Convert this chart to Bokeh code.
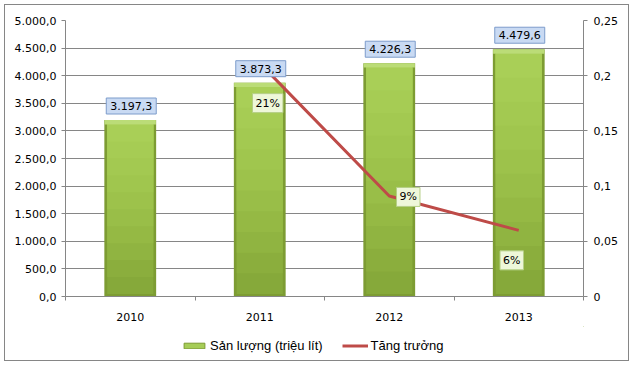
from bokeh.plotting import figure
from bokeh.models import (Range1d, LinearAxis, FixedTicker, ColumnDataSource,
                          Legend, LegendItem)
from bokeh.layouts import column
from bokeh.embed import file_html
from bokeh.resources import INLINE
from bokeh.core.properties import value

# ---- data ----
years = ["2010", "2011", "2012", "2013"]
production = [3197.3, 3873.3, 4226.3, 4479.6]
production_labels = ["3.197,3", "3.873,3", "4.226,3", "4.479,6"]
growth_years = ["2011", "2012", "2013"]
growth = [0.2114, 0.0911, 0.0599]
growth_labels = ["21%", "9%", "6%"]
left_ticks = [0, 500, 1000, 1500, 2000, 2500, 3000, 3500, 4000, 4500, 5000]
left_tick_labels = ["0,0", "500,0", "1.000,0", "1.500,0", "2.000,0", "2.500,0",
                    "3.000,0", "3.500,0", "4.000,0", "4.500,0", "5.000,0"]
right_ticks = [0, 0.05, 0.1, 0.15, 0.2, 0.25]
right_tick_labels = ["0", "0,05", "0,1", "0,15", "0,2", "0,25"]
series_names = ["Sản lượng (triệu lít)", "Tăng trưởng"]

# ---- styling constants ----
FONT = "DejaVu Sans"
GRID = "#868686"
BAR_W = 0.4
EDGE_X = 0.022      # side edge width in category units (~3px)
BEVEL_Y = 80        # top bevel height in value units (~4px)
BASE_Y = 45         # bottom edge
pct_dx = [8, 19, -7]
pct_dy = [40, 1, 30]
# vertical shading of the bar body, bottom -> top
body_shades = ["#86A93A", "#8BAE3D", "#90B441", "#95B944", "#99BE48",
               "#9DC24B", "#A0C64E", "#A3C951", "#A6CC54", "#A9CF57"]
edge_color = "#7D9C33"
bevel_color = "#BBDC77"
LINE_COLOR = "#BE4B48"

xs = [years.index(y) + 0.5 for y in years]
gx = [years.index(y) + 0.5 for y in growth_years]

p = figure(width=623, height=321, output_backend="svg", toolbar_location=None,
           x_range=Range1d(0, len(years)), y_range=Range1d(0, 5000),
           min_border_left=60, min_border_right=45, min_border_top=15, min_border_bottom=30)
p.outline_line_color = None
p.background_fill_color = "white"
p.border_fill_color = "white"
p.extra_y_ranges = {"g": Range1d(0, 0.25)}

# grid
p.xgrid.visible = False
p.ygrid.grid_line_color = GRID
p.ygrid.ticker = FixedTicker(ticks=left_ticks)

# left axis
ya = p.yaxis[0]
ya.ticker = FixedTicker(ticks=left_ticks)
ya.major_label_overrides = dict(zip(left_ticks, left_tick_labels))
ya.axis_line_color = GRID
ya.major_tick_line_color = GRID
ya.major_tick_out = 4
ya.major_tick_in = 0
ya.minor_tick_line_color = None
ya.major_label_text_font = FONT
ya.major_label_text_font_size = "11px"
ya.major_label_text_color = "#000000"
ya.major_label_standoff = 5

# right axis
ra = LinearAxis(y_range_name="g", ticker=FixedTicker(ticks=right_ticks))
ra.major_label_overrides = dict(zip(right_ticks, right_tick_labels))
ra.axis_line_color = GRID
ra.major_tick_line_color = GRID
ra.major_tick_out = 4
ra.major_tick_in = 0
ra.minor_tick_line_color = None
ra.major_label_text_font = FONT
ra.major_label_text_font_size = "11px"
ra.major_label_text_color = "#000000"
ra.major_label_standoff = 6
p.add_layout(ra, "right")

# x axis
xa = p.xaxis[0]
xa.ticker = FixedTicker(ticks=xs, minor_ticks=list(range(len(years) + 1)))
xa.major_label_overrides = dict(zip(xs, years))
xa.axis_line_color = GRID
xa.major_tick_line_color = None
xa.major_tick_out = 0
xa.minor_tick_line_color = GRID
xa.minor_tick_out = 4
xa.minor_tick_in = 0
xa.major_label_text_font = FONT
xa.major_label_text_font_size = "11px"
xa.major_label_text_color = "#000000"
xa.major_label_standoff = 12

# bars (layered to mimic bevelled, shaded 3D look)
src = ColumnDataSource(dict(x=xs, top=production, lab=production_labels,
                            inner_top=[v - BEVEL_Y for v in production]))
p.vbar(x="x", top="top", width=BAR_W, source=src, fill_color=edge_color, line_color=None)
n = len(body_shades)
for i, col in enumerate(body_shades):
    b = [BASE_Y + (v - BEVEL_Y - BASE_Y) * i / n for v in production]
    p.vbar(x=xs, bottom=b, top=src.data["inner_top"], width=BAR_W - 2 * EDGE_X,
           fill_color=col, line_color=None)
p.vbar(x="x", top="top", bottom="inner_top", width=BAR_W - 0.004, source=src,
       fill_color=bevel_color, line_color=None)

# growth line
gsrc = ColumnDataSource(dict(x=gx, y=growth, lab=growth_labels, dx=pct_dx, dy=pct_dy))
p.line(x="x", y="y", source=gsrc, y_range_name="g", line_color=LINE_COLOR, line_width=3)

# value labels
p.text(x="x", y="top", text="lab", source=src, x_offset=1, y_offset=-14,
       text_align="center", text_baseline="middle",
       text_font=value(FONT), text_font_size="11px", text_color="#000000",
       background_fill_color="#C9DAF3", border_line_color="#7D9CCB", padding=4)
# growth labels
p.text(x="x", y="y", text="lab", source=gsrc, y_range_name="g",
       x_offset="dx", y_offset="dy",
       text_align="center", text_baseline="middle",
       text_font=value(FONT), text_font_size="11px", text_color="#000000",
       background_fill_color="#EEF7D9", border_line_color="#B5CF86", padding=3)

# ---- legend strip (glyphs placed outside the visible range; only legend shows) ----
q = figure(width=623, height=34, output_backend="svg", toolbar_location=None,
           x_range=Range1d(0, 1), y_range=Range1d(0, 1),
           x_axis_location=None, y_axis_location=None, min_border=0)
q.grid.visible = False
q.outline_line_color = None
q.border_fill_color = "white"
leg_bar = q.vbar(x=[5], top=[5], bottom=[4], width=0.1, fill_color="#A6CD57",
                 line_color="#7D9C33")
leg_line = q.line(x=[5, 6], y=[5, 5], line_color=LINE_COLOR, line_width=3)
legend = Legend(items=[LegendItem(label=series_names[0], renderers=[leg_bar]),
                       LegendItem(label=series_names[1], renderers=[leg_line])],
                orientation="horizontal", location=(116, 7),
                glyph_width=26, glyph_height=7, label_standoff=3, spacing=19,
                padding=0, margin=0, border_line_color=None, background_fill_alpha=0,
                label_text_font="Liberation Sans", label_text_font_size="13px",
                label_text_color="#000000")
q.add_layout(legend, "center")

layout = column(p, q, spacing=0)
layout.styles = {"margin": "4px 0 0 4px", "border": "1px solid #868686"}

open("out.html", "w").write(file_html(layout, INLINE))
